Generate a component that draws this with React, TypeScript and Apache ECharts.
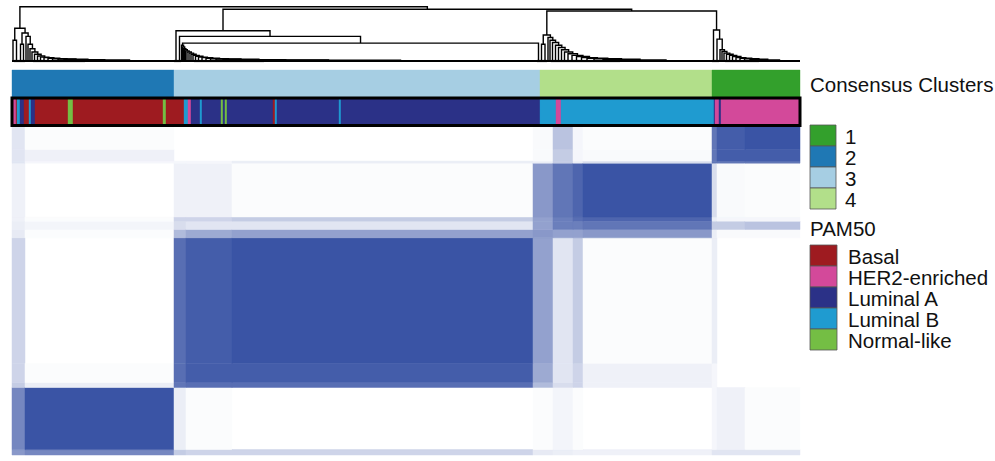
import React, { useEffect, useRef } from "react";
import * as echarts from "echarts";

// ---------- data ----------
const clusterNames = ["1", "2", "3", "4"];
const clusterColors = ["#33A02C", "#1F78B4", "#A6CEE3", "#B2DF8A"];
const clusterOrder = ["2", "3", "4", "1"];
const clusterSizes = [162, 366, 172, 88];

const pam50Names = ["Basal", "HER2-enriched", "Luminal A", "Luminal B", "Normal-like"];
const pam50Colors = ["#9E1B20", "#D3499A", "#2B3187", "#1F9BD0", "#74BE44"];
const pam50Sequence = [
  "HER2-enriched", "Basal", "Luminal B", "Luminal A", "Basal", "Luminal B", "Luminal A",
  "Basal", "Normal-like", "Basal", "Normal-like", "Basal", "Luminal B", "HER2-enriched",
  "Luminal A", "Luminal B", "Luminal A", "Normal-like", "Luminal A", "Normal-like",
  "Luminal A", "Basal", "Luminal B", "Luminal A", "Luminal B", "Luminal A", "Luminal B",
  "HER2-enriched", "Luminal B", "Luminal A", "HER2-enriched", "Luminal A", "HER2-enriched",
];
const pam50Counts = [4, 1, 3, 4, 5, 2, 4, 33, 5, 90, 3, 18, 4, 3, 9, 2, 19, 2, 2, 2, 46, 2, 2, 62, 2, 199, 16, 5, 153, 1, 4, 2, 79];

// consensus matrix summarised by blocks of consecutive samples
const blockEdges = [0, 13, 162, 174, 220, 521, 541, 561, 571, 700, 705, 733, 788];
const consensusBlocks = [
  [0.6, 0.7, 0.3, 0.25, 0.25, 0.12, 0.1, 0.08, 0.08, 0.15, 0.15, 0.15],
  [0.7, 1, 0.1, 0.02, 0, 0.02, 0.06, 0.02, 0, 0.05, 0.08, 0.02],
  [0.3, 0.1, 0.8, 0.85, 0.85, 0.4, 0.2, 0.25, 0.08, 0.05, 0, 0],
  [0.25, 0.02, 0.85, 0.95, 0.95, 0.5, 0.15, 0.25, 0.08, 0.05, 0, 0],
  [0.25, 0, 0.85, 0.95, 1, 0.55, 0.15, 0.3, 0.02, 0.1, 0, 0],
  [0.12, 0.02, 0.4, 0.5, 0.55, 0.6, 0.55, 0.55, 0.6, 0.1, 0.03, 0.03],
  [0.1, 0.06, 0.2, 0.15, 0.15, 0.55, 0.75, 0.75, 0.8, 0.3, 0.3, 0.35],
  [0.08, 0.02, 0.25, 0.25, 0.3, 0.55, 0.75, 0.85, 0.9, 0.1, 0.05, 0.05],
  [0.08, 0, 0.08, 0.08, 0.02, 0.6, 0.8, 0.9, 1, 0.2, 0.03, 0.02],
  [0.15, 0.05, 0.05, 0.05, 0.1, 0.1, 0.3, 0.1, 0.2, 0.8, 0.8, 0.8],
  [0.15, 0.08, 0, 0, 0, 0.03, 0.3, 0.05, 0.03, 0.8, 0.95, 0.95],
  [0.15, 0.02, 0, 0, 0, 0.03, 0.35, 0.05, 0.02, 0.8, 0.95, 1],
];

// dendrogram merge heights (relative) and leaf group sizes
const upperHeights = [0.97, 0.923, 0.893];
const c2Heights = [0.584, 0.37, 0.5, 0.3];
const c2Groups = [2, 5, 3, 3];
const c2ChainHeights = [0.44, 0.3, 0.22, 0.16, 0.12, 0.09, 0.07, 0.06, 0.05, 0.04, 0.035, 0.03, 0.025, 0.02];
const c2ChainSizes = [2, 2, 2, 2, 3, 3, 3, 4, 4, 5, 6, 6, 8, 10];
const c3Heights = [0.54, 0.44, 0.32];
const c3Groups = [4, 3, 3];
const c3ChainHeights = [0.28, 0.25, 0.22, 0.2, 0.18, 0.16, 0.14, 0.12, 0.1, 0.085, 0.07, 0.06, 0.05, 0.04, 0.035, 0.03, 0.025, 0.02, 0.015];
const c3ChainSizes = [1, 1, 1, 1, 1, 2, 2, 2, 2, 3, 3, 4, 4, 5, 6, 8, 10, 12, 15];
const c4Heights = [0.464, 0.3];
const c4Groups = [3, 4];
const c4ChainHeights = [0.42, 0.37, 0.33, 0.28, 0.24, 0.2, 0.16, 0.13, 0.1, 0.08, 0.06, 0.05, 0.04, 0.03, 0.02];
const c4ChainSizes = [2, 2, 3, 3, 3, 3, 3, 4, 4, 5, 5, 6, 8, 10, 12];
const c1Heights = [0.553, 0.39];
const c1Groups = [3, 4];
const c1ChainHeights = [0.2, 0.17, 0.14, 0.12, 0.1, 0.08, 0.06, 0.05, 0.04, 0.03, 0.02];
const c1ChainSizes = [2, 2, 2, 3, 3, 3, 4, 4, 5, 6, 6];

// ---------- helpers ----------
type T = { n: number } | { h: number; l: T; r: T };
const Lf = (n: number): T => ({ n });
const Nd = (h: number, l: T, r: T): T => ({ h, l, r });
const sum = (a: number[]) => a.reduce((s, v) => s + v, 0);
function chain(hs: number[], ss: number[], tail: number): T {
  let cur: T = Lf(tail);
  for (let i = hs.length - 1; i >= 0; i--) cur = Nd(hs[i], Lf(ss[i]), cur);
  return cur;
}

const c2Tree = Nd(
  c2Heights[0],
  Nd(c2Heights[1], Lf(c2Groups[0]), Lf(c2Groups[1])),
  Nd(
    c2Heights[2],
    Nd(c2Heights[3], Lf(c2Groups[2]), Lf(c2Groups[3])),
    chain(c2ChainHeights, c2ChainSizes, clusterSizes[0] - sum(c2Groups) - sum(c2ChainSizes))
  )
);
const c3Tree = Nd(
  c3Heights[0],
  Lf(c3Groups[0]),
  Nd(
    c3Heights[1],
    Lf(c3Groups[1]),
    Nd(
      c3Heights[2],
      chain(c3ChainHeights, c3ChainSizes, clusterSizes[1] - sum(c3Groups) - sum(c3ChainSizes)),
      Lf(c3Groups[2])
    )
  )
);
const c4Tree = Nd(
  c4Heights[0],
  Nd(c4Heights[1], Lf(c4Groups[0]), Lf(c4Groups[1])),
  chain(c4ChainHeights, c4ChainSizes, clusterSizes[2] - sum(c4Groups) - sum(c4ChainSizes))
);
const c1Tree = Nd(
  c1Heights[0],
  Lf(c1Groups[0]),
  Nd(c1Heights[1], Lf(c1Groups[1]), chain(c1ChainHeights, c1ChainSizes, clusterSizes[3] - sum(c1Groups) - sum(c1ChainSizes)))
);
const fullTree = Nd(upperHeights[0], c2Tree, Nd(upperHeights[1], c3Tree, Nd(upperHeights[2], c4Tree, c1Tree)));

function layoutTree(t: T, start: number, links: number[][], bases: number[][]): { x: number; h: number; end: number } {
  if ("n" in t) {
    bases.push([start, start + t.n]);
    return { x: start + t.n / 2, h: 0, end: start + t.n };
  }
  const a = layoutTree(t.l, start, links, bases);
  const b = layoutTree(t.r, a.end, links, bases);
  links.push([a.x, a.h, t.h, b.x, b.h]);
  return { x: (a.x + b.x) / 2, h: t.h, end: b.end };
}

const TOTAL = sum(clusterSizes);
const FONT = '"Liberation Sans", Arial, Helvetica, sans-serif';

export default function App() {
  const ref = useRef<HTMLDivElement>(null);
  useEffect(() => {
    if (!ref.current) return;
    const chart = echarts.init(ref.current, undefined, { renderer: "svg" });

    const links: number[][] = [];
    const bases: number[][] = [];
    layoutTree(fullTree, 0, links, bases);

    const clusterSegs: { x0: number; x1: number; color: string }[] = [];
    let acc = 0;
    clusterOrder.forEach((c, i) => {
      clusterSegs.push({ x0: acc, x1: acc + clusterSizes[i], color: clusterColors[clusterNames.indexOf(c)] });
      acc += clusterSizes[i];
    });
    const pamSegs: { x0: number; x1: number; color: string }[] = [];
    acc = 0;
    pam50Sequence.forEach((p, i) => {
      pamSegs.push({ x0: acc, x1: acc + pam50Counts[i], color: pam50Colors[pam50Names.indexOf(p)] });
      acc += pam50Counts[i];
    });
    const heat: number[][] = [];
    for (let i = 0; i < blockEdges.length - 1; i++) {
      for (let j = 0; j < blockEdges.length - 1; j++) {
        const v = consensusBlocks[j][i];
        if (v <= 0) continue;
        heat.push([blockEdges[i], blockEdges[i + 1], blockEdges[j], blockEdges[j + 1], v]);
      }
    }

    const barRender = (segs: { x0: number; x1: number; color: string }[]) => (params: any, api: any) => {
      const s = segs[params.dataIndex];
      const p0 = api.coord([s.x0, 1]);
      const p1 = api.coord([s.x1, 0]);
      return {
        type: "rect",
        shape: { x: p0[0], y: p0[1], width: p1[0] - p0[0], height: p1[1] - p0[1] },
        style: { fill: s.color, stroke: s.color, lineWidth: 0.4 },
      };
    };

    const legendGraphics: any[] = [];
    legendGraphics.push({
      type: "text", x: 810, y: 84,
      style: { text: "Consensus Clusters", font: `20.5px ${FONT}`, fill: "#111", verticalAlign: "middle", align: "left" },
    });
    clusterNames.forEach((name, i) => {
      legendGraphics.push({
        type: "rect", shape: { x: 810, y: 125 + i * 21, width: 26, height: 21 },
        style: { fill: clusterColors[i], stroke: "#555", lineWidth: 0.8 },
      });
      legendGraphics.push({
        type: "text", x: 845, y: 125 + i * 21 + 11,
        style: { text: name, font: `20.5px ${FONT}`, fill: "#111", verticalAlign: "middle", align: "left" },
      });
    });
    legendGraphics.push({
      type: "text", x: 810, y: 228,
      style: { text: "PAM50", font: `20.5px ${FONT}`, fill: "#111", verticalAlign: "middle", align: "left" },
    });
    pam50Names.forEach((name, i) => {
      legendGraphics.push({
        type: "rect", shape: { x: 810, y: 245 + i * 21, width: 27, height: 21 },
        style: { fill: pam50Colors[i], stroke: "#555", lineWidth: 0.8 },
      });
      legendGraphics.push({
        type: "text", x: 848, y: 245 + i * 21 + 11,
        style: { text: name, font: `20.5px ${FONT}`, fill: "#111", verticalAlign: "middle", align: "left" },
      });
    });
    legendGraphics.push({
      type: "rect", z: 100, shape: { x: 12, y: 98, width: 788, height: 27.5 },
      style: { fill: "none", stroke: "#000", lineWidth: 3 },
    });

    const grids = [
      { left: 12, top: 5, width: 788, height: 56 },
      { left: 12, top: 70, width: 788, height: 27 },
      { left: 12, top: 98, width: 788, height: 28 },
      { left: 12, top: 126.5, width: 788, height: 328.5 },
    ];

    chart.setOption({
      animation: false,
      backgroundColor: "#fff",
      grid: grids,
      xAxis: grids.map((_, i) => ({ type: "value", gridIndex: i, min: 0, max: TOTAL, show: false })),
      yAxis: grids.map((_, i) => ({ type: "value", gridIndex: i, min: 0, max: i === 3 ? TOTAL : 1, show: false })),
      visualMap: {
        show: false, type: "continuous", seriesIndex: 4, dimension: 4, min: 0, max: 1,
        inRange: { color: ["#FFFFFF", "#3A54A5"] },
      },
      graphic: legendGraphics,
      series: [
        {
          type: "custom", xAxisIndex: 0, yAxisIndex: 0, data: links, silent: true,
          renderItem: (params: any, api: any) => {
            const a = api.coord([api.value(0), api.value(1)]);
            const b = api.coord([api.value(0), api.value(2)]);
            const c = api.coord([api.value(3), api.value(2)]);
            const d = api.coord([api.value(3), api.value(4)]);
            return {
              type: "polyline",
              shape: { points: [a, b, c, d] },
              style: { stroke: "#000", lineWidth: 1.4, fill: "none" },
            };
          },
        },
        {
          type: "custom", xAxisIndex: 0, yAxisIndex: 0, data: bases, silent: true,
          renderItem: (params: any, api: any) => {
            const a = api.coord([api.value(0), 0]);
            const b = api.coord([api.value(1), 0]);
            return {
              type: "line",
              shape: { x1: a[0], y1: a[1], x2: b[0], y2: b[1] },
              style: { stroke: "#000", lineWidth: 2.2 },
            };
          },
        },
        {
          type: "custom", xAxisIndex: 1, yAxisIndex: 1, silent: true,
          data: clusterSegs.map((s) => [s.x0, s.x1]),
          renderItem: barRender(clusterSegs),
        },
        {
          type: "custom", xAxisIndex: 2, yAxisIndex: 2, silent: true,
          data: pamSegs.map((s) => [s.x0, s.x1]),
          renderItem: barRender(pamSegs),
        },
        {
          type: "custom", xAxisIndex: 3, yAxisIndex: 3, data: heat, silent: true,
          renderItem: (params: any, api: any) => {
            const p0 = api.coord([api.value(0), api.value(3)]);
            const p1 = api.coord([api.value(1), api.value(2)]);
            const col = api.visual("color");
            return {
              type: "rect",
              shape: { x: p0[0], y: p0[1], width: p1[0] - p0[0], height: p1[1] - p0[1] },
              style: { fill: col, stroke: col, lineWidth: 0.5 },
            };
          },
        },
      ],
    });
    return () => chart.dispose();
  }, []);
  return <div ref={ref} style={{ position: "fixed", left: 0, top: 0, width: 995, height: 461 }} />;
}
